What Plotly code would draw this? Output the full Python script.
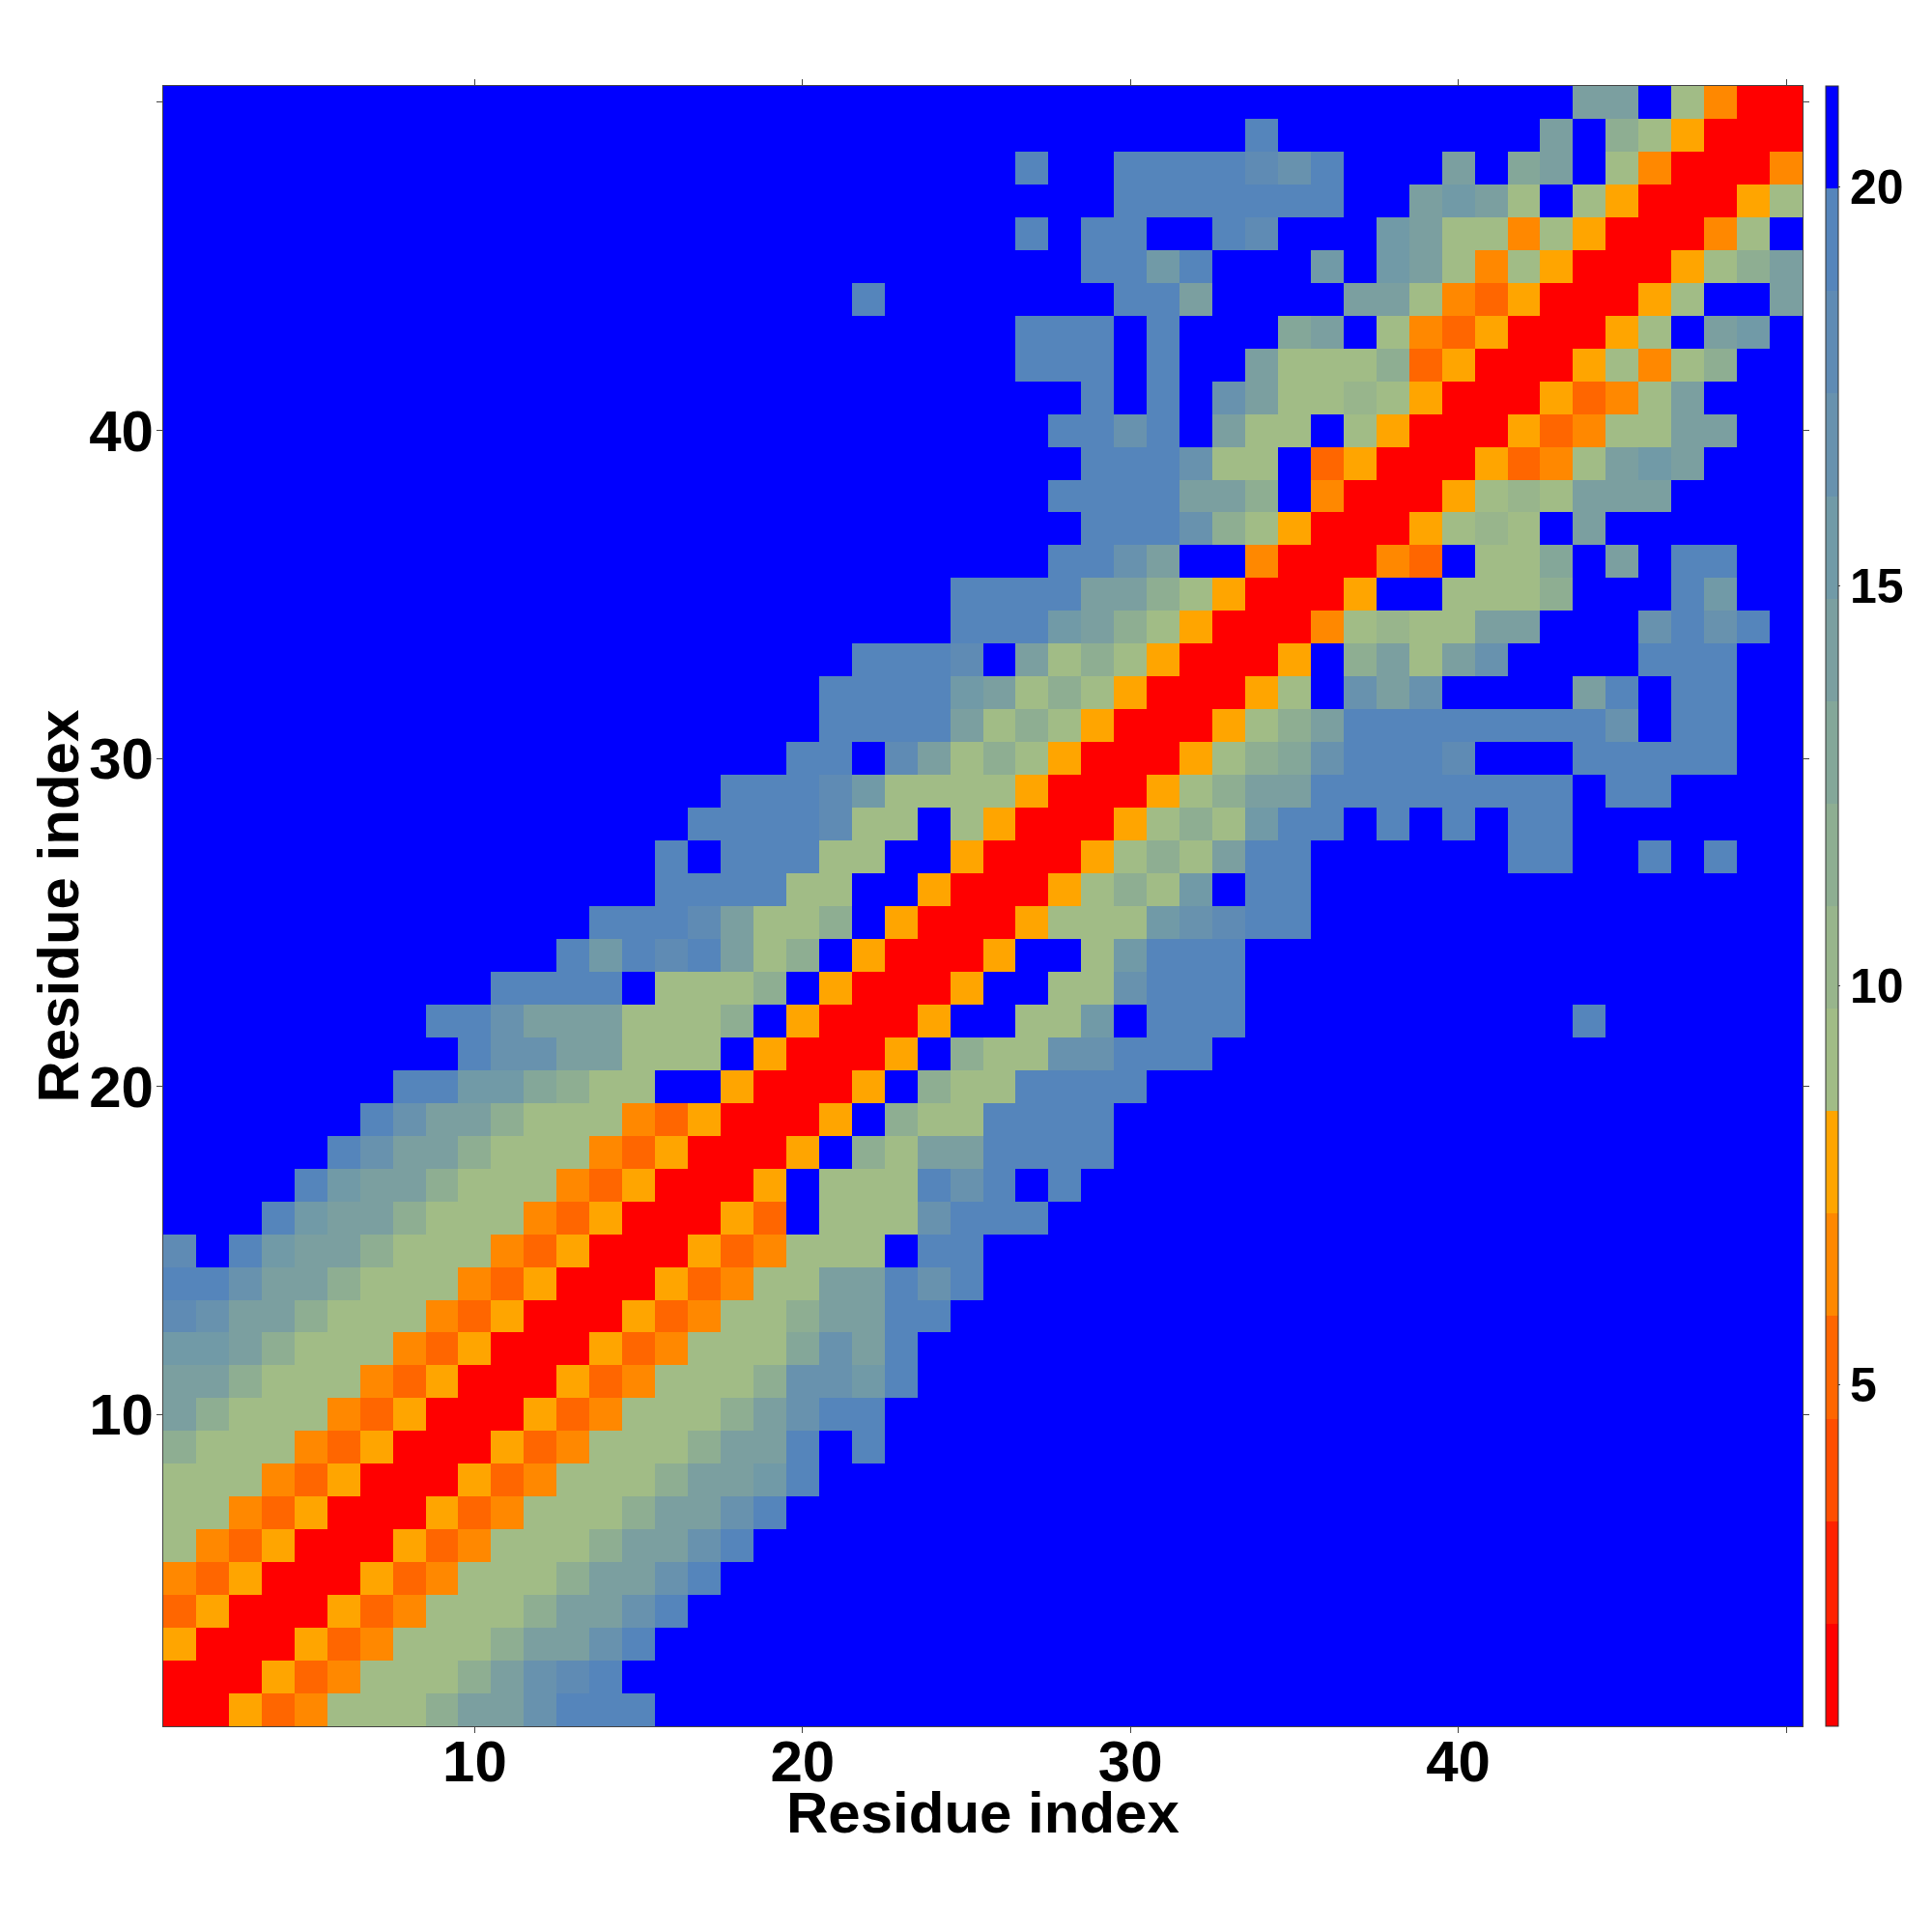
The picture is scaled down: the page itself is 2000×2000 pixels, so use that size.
import plotly.graph_objects as go

RESIDUES = list(range(1, 51))
TICK_VALUES = [10, 20, 30, 40, 50]
TICK_LABELS = ["10", "20", "30", "40", ""]
COLORBAR_TICKS = [5, 10, 15, 20]
AXIS_TITLE = "Residue index"

Z_MIN = 0.73
Z_MAX = 21.26
BAND_COLORS = ["#ff0000", "#ff2200", "#ff4d00", "#ff6600", "#ff8800", "#ffa500",
               "#a1bc86", "#98b58c", "#8eae92", "#84a799", "#7b9fa0", "#719aa7",
               "#6892ae", "#5f8bb4", "#5585bb", "#0000ff"]
# distance read per cell, coded by colour band (bottom row first)
BAND_CODES = "RSTDOYabcdefghiB"
DISTANCE_ROWS = [
    "RRYDOaaace egiiiBBBBB BBBBBBBBBB BBBBBBBBBB BBBBBBBBBB",
    "RRRYDOaaac eghiBBBBBB BBBBBBBBBB BBBBBBBBBB BBBBBBBBBB",
    "YRRRYDOaaa ceegiBBBBB BBBBBBBBBB BBBBBBBBBB BBBBBBBBBB",
    "DYRRRYDOaa aceegiBBBB BBBBBBBBBB BBBBBBBBBB BBBBBBBBBB",
    "ODYRRRYDOa aaceegiBBB BBBBBBBBBB BBBBBBBBBB BBBBBBBBBB",
    "aODYRRRYDO aaaceegiBB BBBBBBBBBB BBBBBBBBBB BBBBBBBBBB",
    "aaODYRRRYD OaaaceegiB BBBBBBBBBB BBBBBBBBBB BBBBBBBBBB",
    "aaaODYRRRY DOaaaceefi BBBBBBBBBB BBBBBBBBBB BBBBBBBBBB",
    "caaaODYRRR YDOaaaceei BiBBBBBBBB BBBBBBBBBB BBBBBBBBBB",
    "ecaaaODYRR RYDOaaaceg iiBBBBBBBB BBBBBBBBBB BBBBBBBBBB",
    "eecaaaODYR RRYDOaaacg gfiBBBBBBB BBBBBBBBBB BBBBBBBBBB",
    "ffecaaaODY RRRYDOaaad geiBBBBBBB BBBBBBBBBB BBBBBBBBBB",
    "hgeecaaaOD YRRRYDOaac eeiiBBBBBB BBBBBBBBBB BBBBBBBBBB",
    "iigeecaaaO DYRRRYDOaa eeigiBBBBB BBBBBBBBBB BBBBBBBBBB",
    "hBifeecaaa ODYRRRYDOa aaBiiBBBBB BBBBBBBBBB BBBBBBBBBB",
    "BBBifeecaa aODYRRRYDB aaagiiiBBB BBBBBBBBBB BBBBBBBBBB",
    "BBBBifeeca aaODYRRRYB aaaigiBiBB BBBBBBBBBB BBBBBBBBBB",
    "BBBBBigeec aaaODYRRRY BcaeeiiiiB BBBBBBBBBB BBBBBBBBBB",
    "BBBBBBigee caaaODYRRR YBcaaiiiiB BBBBBBBBBB BBBBBBBBBB",
    "BBBBBBBiif fdcaaBBYRR RYBcaaiiii BBBBBBBBBB BBBBBBBBBB",
    "BBBBBBBBBi ggeeaaaBYR RRYBcaaggi iiBBBBBBBB BBBBBBBBBB",
    "BBBBBBBBii geeeaaacBY RRRYBBaafB iiiBBBBBBB BBBiBBBBBB",
    "BBBBBBBBBB iiiiBaaacB YRRRYBBaag iiiBBBBBBB BBBBBBBBBB",
    "BBBBBBBBBB BBifihieac BYRRRYBBaf iiiBBBBBBB BBBBBBBBBB",
    "BBBBBBBBBB BBBiiiheaa cBYRRRYaaa fghiiBBBBB BBBBBBBBBB",
    "BBBBBBBBBB BBBBBiiiia aBBYRRRYac afBiiBBBBB BBBBBBBBBB",
    "BBBBBBBBBB BBBBBiBiii aaBBYRRRYa caeiiBBBBB BiiBBiBiBB",
    "BBBBBBBBBB BBBBBBiiii haaBaYRRRY acafiiBiBi BiiBBBBBBB",
    "BBBBBBBBBB BBBBBBBiii hfaaaaYRRR Yaceeiiiii iiiBiiBBBB",
    "BBBBBBBBBB BBBBBBBBBi iBheacaYRR RYacdgiiih BBBiiiiiBB",
    "BBBBBBBBBB BBBBBBBBBB iiiieacaYR RRYaceiiii iiiigBiiBB",
    "BBBBBBBBBB BBBBBBBBBB iiiifeacaY RRRYaBgegB BBBeiBiiBB",
    "BBBBBBBBBB BBBBBBBBBB BiiihBeaca YRRRYBceae gBBBBiiiBB",
    "BBBBBBBBBB BBBBBBBBBB BBBBiiifec aYRRROabaa eeBBBgigiB",
    "BBBBBBBBBB BBBBBBBBBB BBBBiiiiee caYRRRYBBa aacBBBifBB",
    "BBBBBBBBBB BBBBBBBBBB BBBBBBBiig eBBORRRODB aadBeBiiBB",
    "BBBBBBBBBB BBBBBBBBBB BBBBBBBBii igcaYRRRYa baBeBBBBBB",
    "BBBBBBBBBB BBBBBBBBBB BBBBBBBiii ieecBORRRY abaeeeBBBB",
    "BBBBBBBBBB BBBBBBBBBB BBBBBBBBii igaaBDYRRR YDOaefeBBB",
    "BBBBBBBBBB BBBBBBBBBB BBBBBBBiig iBeaaBaYRR RYDOaaeeBB",
    "BBBBBBBBBB BBBBBBBBBB BBBBBBBBiB iBgeaabaYR RRYDOaeBBB",
    "BBBBBBBBBB BBBBBBBBBB BBBBBBiiiB iBBeaaacDY RRRYaOacBB",
    "BBBBBBBBBB BBBBBBBBBB BBBBBBiiiB iBBBdeBaOD YRRRYaBefB",
    "BBBBBBBBBB BBBBBBBBBB BiBBBBBBBi ieBBBBeeaO DYRRRYaBBe",
    "BBBBBBBBBB BBBBBBBBBB BBBBBBBBii fiBBBfBfea OaYRRRYace",
    "BBBBBBBBBB BBBBBBBBBB BBBBBBiBii BBihBBBfea aOaYRRROaB",
    "BBBBBBBBBB BBBBBBBBBB BBBBBBBBBi iiiiiiBBef eaBaYRRRYa",
    "BBBBBBBBBB BBBBBBBBBB BBBBBBiBBi iiihgiBBBe BdeBaORRRO",
    "BBBBBBBBBB BBBBBBBBBB BBBBBBBBBB BBBiBBBBBB BBeBcaYRRR",
    "BBBBBBBBBB BBBBBBBBBB BBBBBBBBBB BBBBBBBBBB BBBeeBaORR",
]

n_bands = len(BAND_COLORS)
band_width = (Z_MAX - Z_MIN) / n_bands
band_value = {c: Z_MIN + band_width * (i + 0.5) for i, c in enumerate(BAND_CODES)}
z = [[band_value[c] for c in row.replace(" ", "")] for row in DISTANCE_ROWS]
assert all(len(r) == 50 for r in z) and len(z) == 50

colorscale = []
for i, col in enumerate(BAND_COLORS):
    colorscale.append([i / n_bands, col])
    colorscale.append([(i + 1) / n_bands, col])

FONT = "Liberation Sans"
W, H = 2000, 2000
OFFSET = 8  # page margin of the browser body
L, R, T, B = 169, 1866, 89, 1787

fig = go.Figure(go.Heatmap(
    x=RESIDUES, y=RESIDUES, z=z, colorscale=colorscale, zmin=Z_MIN, zmax=Z_MAX,
    hoverongaps=False,
    colorbar=dict(
        thicknessmode="pixels", thickness=12.5, lenmode="fraction", len=1,
        x=(1890 - L) / (R - L), xanchor="left", xpad=0,
        y=0.5, yanchor="middle", ypad=0,
        outlinewidth=1, outlinecolor="#333333",
        tickmode="array", tickvals=COLORBAR_TICKS, ticktext=[str(v) for v in COLORBAR_TICKS],
        ticks="outside", ticklen=2, tickwidth=1, tickcolor="#444444",
        tickfont=dict(family=FONT, size=50, color="black", weight="bold"),
    ),
))


def axis(label_shift):
    return dict(
        range=[0.5, 50.5], tickmode="array", tickvals=TICK_VALUES, ticktext=TICK_LABELS,
        ticks="outside", ticklen=6, tickwidth=1, tickcolor="#444444",
        showline=True, linewidth=1, linecolor="#444444", mirror="ticks",
        showgrid=False, zeroline=False, ticklabelstandoff=label_shift,
        tickfont=dict(family=FONT, size=60, color="black", weight="bold"),
    )


title_font = dict(family=FONT, size=60, color="black", weight="bold")
fig.update_layout(
    width=W - OFFSET, height=H - OFFSET,
    margin=dict(l=L - OFFSET, r=W - OFFSET - (R - OFFSET), t=T - OFFSET, b=H - OFFSET - (B - OFFSET), pad=0, autoexpand=False),
    paper_bgcolor="white", plot_bgcolor="white",
    font=dict(family=FONT, color="black"),
    xaxis=axis(-22),
    yaxis=axis(-9),
    annotations=[
        dict(text=AXIS_TITLE, xref="paper", yref="paper", x=0.5, y=-(1877 - B) / (B - T),
             xanchor="center", yanchor="middle", showarrow=False, font=title_font),
        dict(text=AXIS_TITLE, xref="paper", yref="paper", x=-(169 - 59.5) / (R - L), y=0.5,
             xanchor="center", yanchor="middle", textangle=-90, showarrow=False, font=title_font),
    ],
)

fig.write_html("out.html")
